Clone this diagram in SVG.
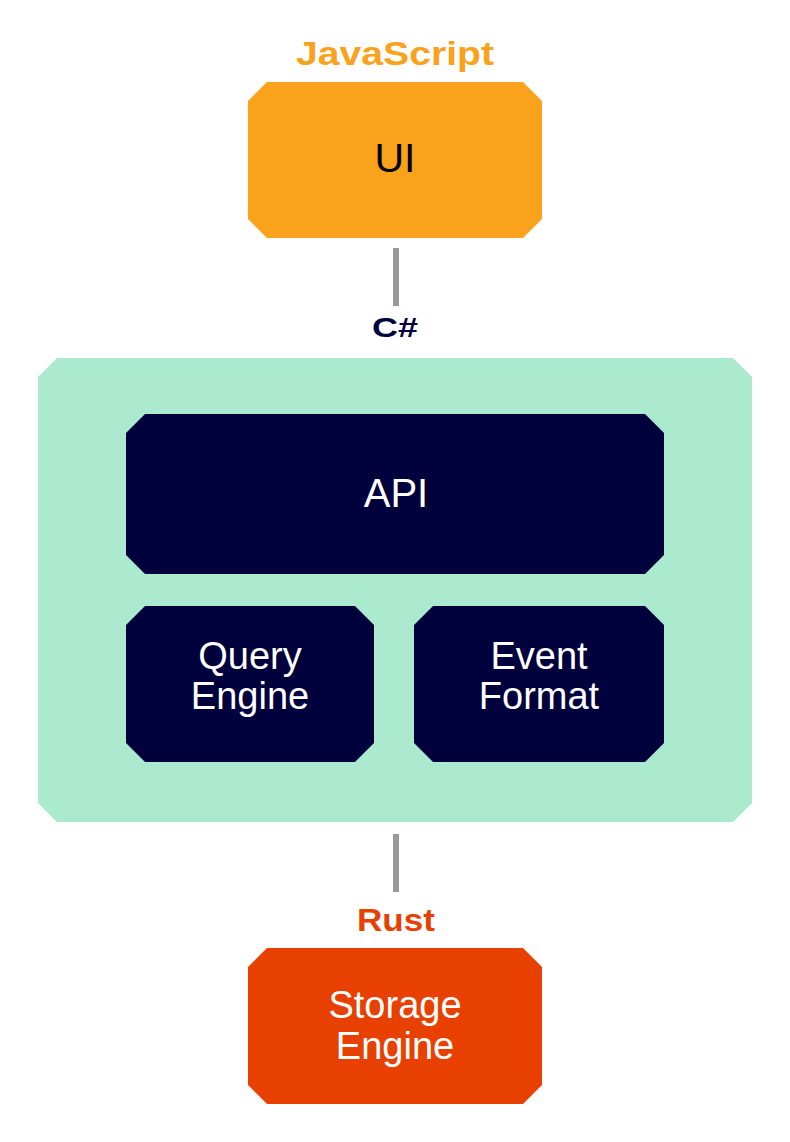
<svg xmlns="http://www.w3.org/2000/svg" width="790" height="1142" viewBox="0 0 790 1142">
<style>
.lbl{font-family:"Liberation Sans",Arial,sans-serif;font-weight:bold;text-anchor:middle}
.txt{font-family:"Liberation Sans",Arial,sans-serif;text-anchor:middle}
.conn{fill:#999999}
</style>
<rect width="790" height="1142" fill="#ffffff"/>
<g id="connectors">
<rect class="conn" x="393" y="248" width="6" height="58"/>
<rect class="conn" x="393" y="834" width="6" height="58"/>
</g>
<g id="ui">
<text class="lbl" x="395" y="65" font-size="33" fill="#FAA21B" textLength="198" lengthAdjust="spacingAndGlyphs">JavaScript</text>
<polygon points="267,82 523,82 542,101 542,219 523,238 267,238 248,219 248,101" fill="#FAA21B"/>
<text class="txt" x="395" y="172" font-size="41" fill="#000000">UI</text>
</g>
<g id="csharp">
<text class="lbl" x="395" y="337" font-size="27" fill="#00003C" textLength="46" lengthAdjust="spacingAndGlyphs">C#</text>
<polygon points="57,358 733,358 752,377 752,803 733,822 57,822 38,803 38,377" fill="#ABEACF"/>
</g>
<g id="api">
<polygon points="145,414 645,414 664,433 664,555 645,574 145,574 126,555 126,433" fill="#00003C"/>
<text class="txt" x="396" y="507" font-size="40" fill="#ffffff">API</text>
</g>
<g id="query-engine">
<polygon points="145,606 355,606 374,625 374,743 355,762 145,762 126,743 126,625" fill="#00003C"/>
<text class="txt" x="250" y="669" font-size="38" fill="#ffffff">Query</text>
<text class="txt" x="250" y="709" font-size="38" fill="#ffffff">Engine</text>
</g>
<g id="event-format">
<polygon points="433,606 645,606 664,625 664,743 645,762 433,762 414,743 414,625" fill="#00003C"/>
<text class="txt" x="539" y="669" font-size="38" fill="#ffffff">Event</text>
<text class="txt" x="539" y="709" font-size="38" fill="#ffffff">Format</text>
</g>
<g id="storage-engine">
<text class="lbl" x="396" y="931" font-size="32" fill="#E84000" textLength="78" lengthAdjust="spacingAndGlyphs">Rust</text>
<polygon points="267,948 523,948 542,967 542,1085 523,1104 267,1104 248,1085 248,967" fill="#E84000"/>
<text class="txt" x="395" y="1018" font-size="38" fill="#ffffff">Storage</text>
<text class="txt" x="395" y="1059" font-size="38" fill="#ffffff">Engine</text>
</g>
</svg>
